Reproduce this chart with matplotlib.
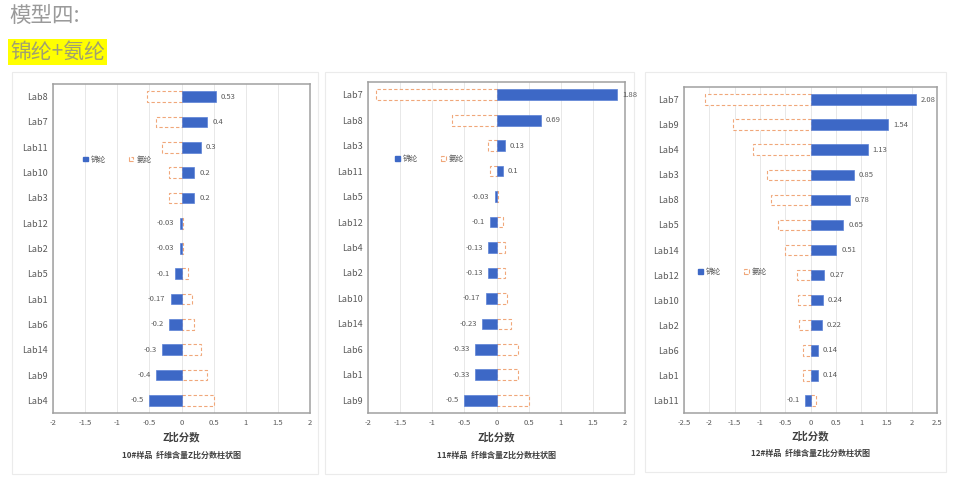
import matplotlib
matplotlib.use("Agg")
import matplotlib.pyplot as plt
from matplotlib.patches import Rectangle, Patch

plt.rcParams['font.family'] = ['Noto Sans CJK SC', 'DejaVu Sans']

# ---------------- data ----------------
labs10 = ["Lab8", "Lab7", "Lab11", "Lab10", "Lab3", "Lab12", "Lab2", "Lab5", "Lab1", "Lab6", "Lab14", "Lab9", "Lab4"]
nylon10 = [0.53, 0.4, 0.3, 0.2, 0.2, -0.03, -0.03, -0.1, -0.17, -0.2, -0.3, -0.4, -0.5]
spandex10 = [-0.53, -0.4, -0.3, -0.2, -0.2, 0.03, 0.03, 0.1, 0.17, 0.2, 0.3, 0.4, 0.5]

labs11 = ["Lab7", "Lab8", "Lab3", "Lab11", "Lab5", "Lab12", "Lab4", "Lab2", "Lab10", "Lab14", "Lab6", "Lab1", "Lab9"]
nylon11 = [1.88, 0.69, 0.13, 0.1, -0.03, -0.1, -0.13, -0.13, -0.17, -0.23, -0.33, -0.33, -0.5]
spandex11 = [-1.88, -0.69, -0.13, -0.1, 0.03, 0.1, 0.13, 0.13, 0.17, 0.23, 0.33, 0.33, 0.5]

labs12 = ["Lab7", "Lab9", "Lab4", "Lab3", "Lab8", "Lab5", "Lab14", "Lab12", "Lab10", "Lab2", "Lab6", "Lab1", "Lab11"]
nylon12 = [2.08, 1.54, 1.13, 0.85, 0.78, 0.65, 0.51, 0.27, 0.24, 0.22, 0.14, 0.14, -0.1]
spandex12 = [-2.08, -1.54, -1.13, -0.85, -0.78, -0.65, -0.51, -0.27, -0.24, -0.22, -0.14, -0.14, 0.1]

xticks_a = [-2, -1.5, -1, -0.5, 0, 0.5, 1, 1.5, 2]
xticks_b = [-2.5, -2, -1.5, -1, -0.5, 0, 0.5, 1, 1.5, 2, 2.5]

captions = ["10#样品  纤维含量Z比分数柱状图", "11#样品  纤维含量Z比分数柱状图", "12#样品  纤维含量Z比分数柱状图"]
series_names = ["锦纶", "氨纶"]

W, H = 971, 486
fig = plt.figure(figsize=(W / 100, H / 100), dpi=100)
fig.patch.set_facecolor("white")

def fx(px):
    return px / W

def fy(py):
    return 1 - py / H

# header text
fig.text(fx(9), fy(16), "模型四:", fontsize=15.5, color="#9a9a9a", va="center", ha="left")
fig.text(fx(10), fy(52), "锦纶+氨纶", fontsize=15, color="#a0a070", va="center", ha="left",
         bbox=dict(boxstyle="square,pad=0.1", facecolor="#ffff00", edgecolor="none"))

# cards (behind axes)
for (x0, x1, y0, y1) in [(12, 318, 72, 474), (325, 634, 72, 474), (645, 946, 72, 472)]:
    fig.add_artist(Rectangle((fx(x0), fy(y1)), fx(x1 - x0), (y1 - y0) / H,
                             transform=fig.transFigure, facecolor="none",
                             edgecolor="#ebebeb", linewidth=0.8, zorder=-5))

panels = [
    dict(labs=labs10, ny=nylon10, sp=spandex10, ticks=xticks_a, box=(53, 310, 84, 413),
         leg=(0.09, 0.77), cap=captions[0], capy=455, xly=437),
    dict(labs=labs11, ny=nylon11, sp=spandex11, ticks=xticks_a, box=(368, 625, 82, 413),
         leg=(0.08, 0.767), cap=captions[1], capy=455, xly=437),
    dict(labs=labs12, ny=nylon12, sp=spandex12, ticks=xticks_b, box=(684, 937, 87, 413),
         leg=(0.03, 0.432), cap=captions[2], capy=453, xly=436),
]

blue = "#3d68c6"
orange = "#f0a77a"
txtc = "#595959"

for p in panels:
    x0, x1, y0, y1 = p["box"]
    ax = fig.add_axes([fx(x0), fy(y1), fx(x1 - x0), (y1 - y0) / H])
    ax.set_facecolor("none")
    n = len(p["labs"])
    ypos = list(range(n))
    ax.barh(ypos, p["sp"], height=0.42, facecolor="white", edgecolor=orange,
            linestyle=(0, (3, 2)), linewidth=0.8, zorder=3)
    ax.barh(ypos, p["ny"], height=0.42, color=blue, edgecolor="#5b82d6", linewidth=0.5, zorder=4)
    rng = p["ticks"][-1] - p["ticks"][0]
    off = rng * 0.02
    for y, v in zip(ypos, p["ny"]):
        lab = f"{v:g}"
        if v >= 0:
            ax.text(v + off, y, lab, va="center", ha="left", fontsize=5.5, color=txtc, zorder=5)
        else:
            ax.text(v - off, y, lab, va="center", ha="right", fontsize=5.5, color=txtc, zorder=5)
    ax.set_yticks(ypos)
    ax.set_yticklabels(p["labs"], fontsize=6.5, color=txtc)
    ax.set_ylim(n - 0.5, -0.5)
    ax.set_xlim(p["ticks"][0], p["ticks"][-1])
    ax.set_xticks(p["ticks"])
    ax.set_xticklabels([f"{t:g}" for t in p["ticks"]], fontsize=5.5, color=txtc)
    ax.tick_params(length=0, pad=4)
    ax.grid(axis="x", color="#e4e4e4", linewidth=0.6, zorder=0)
    ax.set_axisbelow(True)
    for s in ax.spines.values():
        s.set_color("#a0a0a0")
        s.set_linewidth(1.1)
    handles = [Patch(facecolor=blue, edgecolor=blue),
               Patch(facecolor="white", edgecolor=orange, linestyle="--", linewidth=0.8)]
    ax.legend(handles, series_names, loc="center left", bbox_to_anchor=p["leg"], ncol=2,
              frameon=False, fontsize=5.5, handlelength=0.6, handleheight=0.6,
              handletextpad=0.4, columnspacing=3.0, labelcolor=txtc)
    xc = (x0 + x1) / 2
    fig.text(fx(xc), fy(p["xly"]), "Z比分数", fontsize=7.5, fontweight="bold", color="#404040",
             ha="center", va="center")
    fig.text(fx(xc), fy(p["capy"]), p["cap"], fontsize=5.8, fontweight="bold", color="#404040",
             ha="center", va="center")

fig.savefig("out.png", dpi=100, facecolor="white")
